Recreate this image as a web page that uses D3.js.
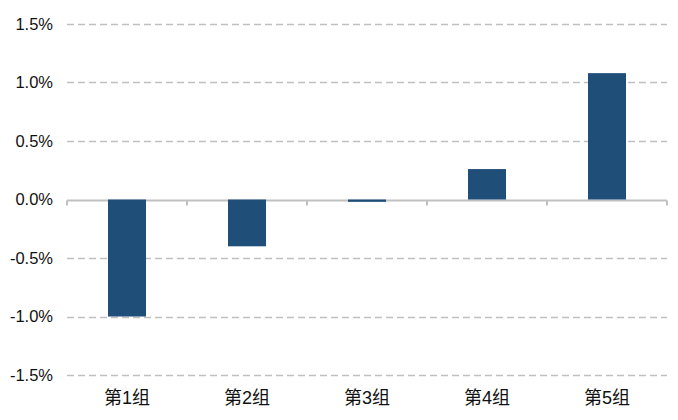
<!DOCTYPE html>
<html><head><meta charset="utf-8">
<script src="https://cdn.jsdelivr.net/npm/d3@7"></script>
<style>body{margin:0;background:#fff}svg{display:block}</style>
</head><body>
<svg id="c" width="678" height="420"></svg>
<script>
const categories = ["第1组","第2组","第3组","第4组","第5组"];
const values = [-1.0, -0.40, -0.02, 0.26, 1.08];
const yTicks = [-1.5, -1.0, -0.5, 0.0, 0.5, 1.0, 1.5];

(function () {
const svg = d3.select("#c");
const mLeft = 67, mRight = 667, mTop = 24, mBottom = 375;
const x = d3.scaleBand().domain(categories).range([mLeft, mRight]).paddingInner(0).paddingOuter(0);
const y = d3.scaleLinear().domain([-1.5, 1.5]).range([mBottom, mTop]);
const font = "'Liberation Sans', Arial, 'Noto Sans CJK SC', sans-serif";

// gridlines
svg.append("g").selectAll("line").data(yTicks.filter(d => d !== 0)).join("line")
  .attr("x1", mLeft).attr("x2", mRight)
  .attr("y1", d => Math.round(y(d)) + 0.5).attr("y2", d => Math.round(y(d)) + 0.5)
  .attr("stroke", "#c0c0c0").attr("stroke-width", 1.6).attr("stroke-dasharray", "7,4");

// y labels
svg.append("g").selectAll("text").data(yTicks).join("text")
  .attr("x", 53).attr("y", d => y(d)).attr("dy", "0.35em")
  .attr("text-anchor", "end").attr("font-family", font).attr("font-size", 16.5).attr("fill", "#111")
  .text(d => d.toFixed(1) + "%");

// x axis
const y0 = Math.round(y(0)) + 0.5;
svg.append("line").attr("x1", mLeft).attr("x2", mRight).attr("y1", y0).attr("y2", y0)
  .attr("stroke", "#c0c0c0").attr("stroke-width", 2);
const tickX = categories.map(c => x(c)).concat([mRight]);
svg.append("g").selectAll("line").data(tickX).join("line")
  .attr("x1", d => d).attr("x2", d => d).attr("y1", y0).attr("y2", y0 + 5)
  .attr("stroke", "#c0c0c0").attr("stroke-width", 2);

// bars (drawn over the axis line)
const bw = 38;
svg.append("g").selectAll("rect").data(values).join("rect")
  .attr("x", (d, i) => x(categories[i]) + x.bandwidth() / 2 - bw / 2)
  .attr("width", bw)
  .attr("y", d => y(Math.max(0, d)))
  .attr("height", d => Math.max(1.5, Math.abs(y(d) - y(0))))
  .attr("fill", "#1f4e79");

// x labels
svg.append("g").selectAll("text").data(categories).join("text")
  .attr("x", d => x(d) + x.bandwidth() / 2).attr("y", 398).attr("dy", "0.35em")
  .attr("text-anchor", "middle").attr("font-family", font).attr("font-size", 18).attr("fill", "#111")
  .text(d => d);
})();
</script>
</body></html>
